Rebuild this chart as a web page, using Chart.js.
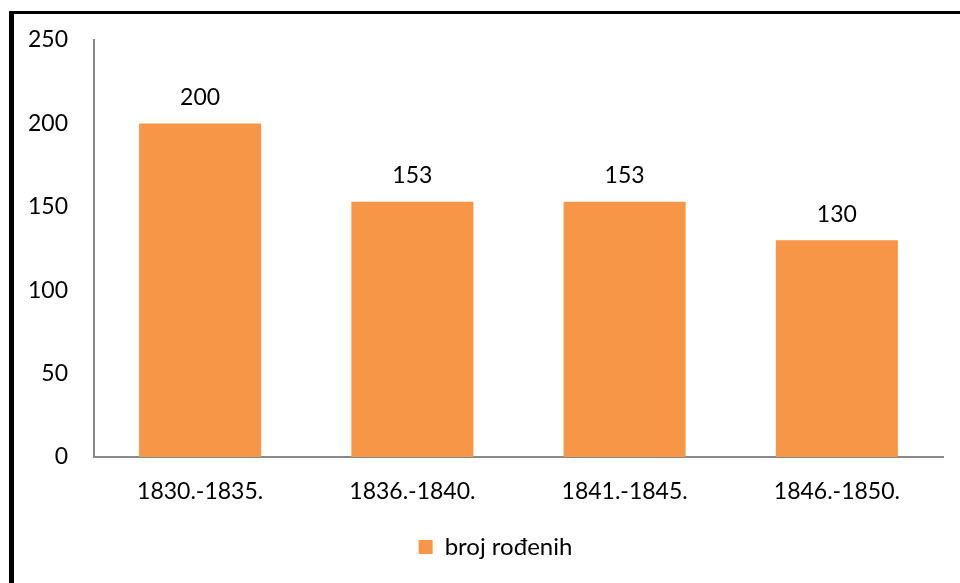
<!DOCTYPE html>
<html>
<head>
<meta charset="utf-8">
<script src="https://cdn.jsdelivr.net/npm/chart.js@4/dist/chart.umd.min.js"></script>
<style>
html,body{margin:0;padding:0;background:#fff;overflow:hidden;}
#wrap{position:relative;width:960px;height:583px;}
#frame{position:absolute;left:9px;top:11px;width:2000px;height:2000px;border-left:5px solid #000;border-top:3px solid #000;pointer-events:none;}
canvas{position:absolute;left:0;top:0;}
</style>
</head>
<body>
<div id="wrap">
<canvas id="c" width="960" height="583"></canvas>
<div id="frame"></div>
</div>
<script>
const categories = ["1830.-1835.", "1836.-1840.", "1841.-1845.", "1846.-1850."];
const seriesName = "broj rođenih";
const values = [200, 153, 153, 130];
const yTicks = [0, 50, 100, 150, 200, 250];

const FONT = "Lato, 'Open Sans', sans-serif";
const ORANGE = "#F79646";
const AXIS = "#898989";

const valueLabels = {
  id: "valueLabels",
  afterDatasetsDraw(chart) {
    const ctx = chart.ctx;
    ctx.save();
    ctx.font = "23px " + FONT;
    ctx.fillStyle = "#000";
    ctx.textAlign = "center";
    ctx.textBaseline = "middle";
    chart.getDatasetMeta(0).data.forEach((bar, i) => {
      ctx.fillText(String(chart.data.datasets[0].data[i]), bar.x, bar.y - 26);
    });
    ctx.restore();
  }
};

const shiftLegend = {
  id: "shiftLegend",
  afterLayout(chart) {
    if (chart.legend) {
      chart.legend.left += 24;
      chart.legend.right += 24;
    }
  }
};

new Chart(document.getElementById("c"), {
  type: "bar",
  data: {
    labels: categories,
    datasets: [{
      label: seriesName,
      data: values,
      backgroundColor: ORANGE,
      borderWidth: 0,
      barPercentage: 0.575,
      categoryPercentage: 1.0
    }]
  },
  options: {
    responsive: false,
    animation: false,
    layout: { padding: { left: 0, right: 17, top: 40, bottom: 14 } },
    plugins: {
      legend: {
        position: "bottom",
        labels: {
          font: { family: FONT, size: 24 },
          color: "#000",
          boxWidth: 14,
          boxHeight: 14,
          padding: 8
        }
      },
      tooltip: { enabled: false }
    },
    scales: {
      x: {
        grid: { display: false, drawTicks: false },
        border: { display: true, color: AXIS, width: 2 },
        ticks: { font: { family: FONT, size: 23 }, color: "#000", padding: 21, maxRotation: 0 },
        afterFit(s) { s.height = 70; }
      },
      y: {
        min: 0, max: 250,
        afterBuildTicks(s) { s.ticks = yTicks.map(v => ({ value: v })); },
        grid: { display: false, drawTicks: false },
        border: { display: true, color: AXIS, width: 2 },
        ticks: { font: { family: FONT, size: 23 }, color: "#000", padding: 26 },
        afterFit(s) { s.width = 94; }
      }
    }
  },
  plugins: [valueLabels, shiftLegend]
});
</script>
</body>
</html>
